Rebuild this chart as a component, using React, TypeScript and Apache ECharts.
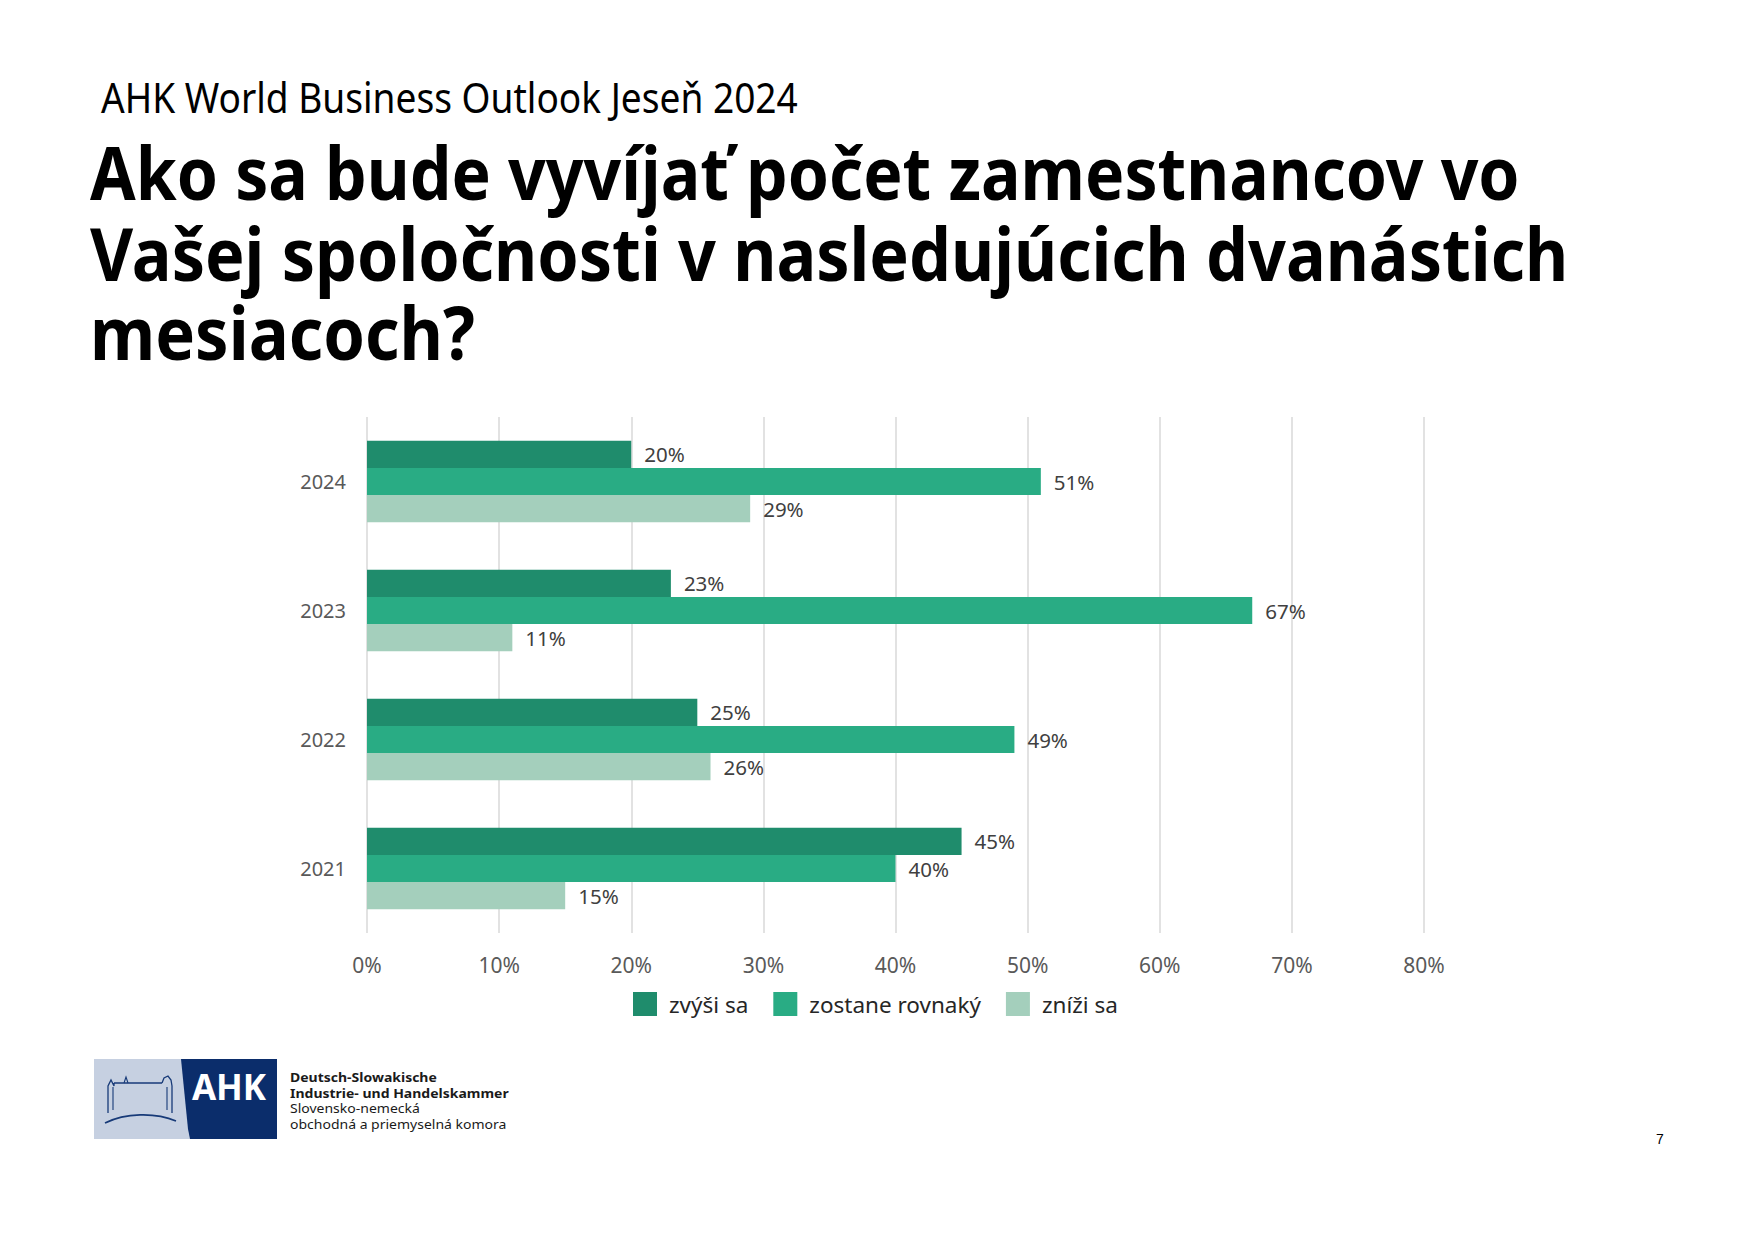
import React, { useEffect, useRef } from "react";
import * as echarts from "echarts";

const years = ["2024", "2023", "2022", "2021"];
const seriesNames = ["zvýši sa", "zostane rovnaký", "zníži sa"];
const increase = [20, 23, 25, 45];
const same = [51, 67, 49, 40];
const decrease = [29, 11, 26, 15];
const colors = ["#1F8C6C", "#29AC84", "#A4CFBC"];
const xTicks = { min: 0, max: 80, interval: 10 };

const subtitle = "AHK World Business Outlook Jeseň 2024";
const titleLines = [
  "Ako sa bude vyvíjať počet zamestnancov vo",
  "Vašej spoločnosti v nasledujúcich dvanástich",
  "mesiacoch?",
];
const logoLines = [
  "Deutsch-Slowakische",
  "Industrie- und Handelskammer",
  "Slovensko-nemecká",
  "obchodná a priemyselná komora",
];

function measure(text: string, font: string): number {
  const c = document.createElement("canvas");
  const ctx = c.getContext("2d");
  if (!ctx) return 1;
  ctx.font = font;
  return ctx.measureText(text).width || 1;
}

export default function App() {
  const ref = useRef<HTMLDivElement>(null);
  useEffect(() => {
    if (!ref.current) return;
    const chart = echarts.init(ref.current, undefined, { renderer: "svg" });

    const titleSize = 73;
    const titleFont = `bold ${titleSize}px "Noto Sans"`;
    const titleTargets = [1430, 1479, 385];
    const titleYs = [172, 252, 332];
    const titleEls = titleLines.map((t, i) => ({
      type: "text",
      x: 90,
      y: titleYs[i],
      scaleX: titleTargets[i] / measure(t, titleFont),
      style: {
        text: t,
        font: titleFont,
        fill: "#000000",
        textAlign: "left",
        textVerticalAlign: "middle",
      },
    }));
    const subFont = `42px "Noto Sans"`;
    const subEl = {
      type: "text",
      x: 101,
      y: 97,
      scaleX: 697 / measure(subtitle, subFont),
      style: {
        text: subtitle,
        font: subFont,
        fill: "#000000",
        textAlign: "left",
        textVerticalAlign: "middle",
      },
    };

    const castle = "#173A78";
    const logoEls: any[] = [
      { type: "rect", shape: { x: 94, y: 1059, width: 183, height: 80 }, style: { fill: "#C6D0E1" } },
      {
        type: "polygon",
        shape: {
          points: [
            [181, 1059], [182, 1069], [183, 1079], [184, 1089], [185, 1099],
            [186, 1109], [187, 1119], [188, 1129], [190, 1139], [277, 1139], [277, 1059],
          ],
        },
        style: { fill: "#0B2D6B" },
      },
      {
        type: "text",
        x: 229,
        y: 1086,
        style: {
          text: "AHK",
          font: 'bold 35px "Noto Sans"',
          fill: "#FFFFFF",
          textAlign: "center",
          textVerticalAlign: "middle",
        },
      },
      { type: "polyline", shape: { points: [[108, 1113], [108, 1086], [111, 1080], [114, 1086], [114, 1083]] }, style: { stroke: castle, lineWidth: 1.3, fill: "none" } },
      { type: "polyline", shape: { points: [[114, 1083], [162, 1083]] }, style: { stroke: castle, lineWidth: 1.3 } },
      { type: "polyline", shape: { points: [[162, 1083], [164, 1078], [168, 1076], [171, 1080], [172, 1086], [172, 1113]] }, style: { stroke: castle, lineWidth: 1.3, fill: "none" } },
      { type: "polyline", shape: { points: [[113, 1087], [113, 1110]] }, style: { stroke: castle, lineWidth: 1.1 } },
      { type: "polyline", shape: { points: [[167, 1087], [167, 1110]] }, style: { stroke: castle, lineWidth: 1.1 } },
      { type: "polyline", shape: { points: [[124, 1083], [126, 1077], [128, 1083]] }, style: { stroke: castle, lineWidth: 1.1, fill: "none" } },
      { type: "bezierCurve", shape: { x1: 105, y1: 1123, x2: 176, y2: 1121, cpx1: 125, cpy1: 1113, cpx2: 155, cpy2: 1112 }, style: { stroke: castle, lineWidth: 1.6, fill: "none" } },
    ];
    const logoTextYs = [1077.5, 1093, 1108.5, 1124];
    logoLines.forEach((t, i) => {
      logoEls.push({
        type: "text",
        x: 290,
        y: logoTextYs[i],
        scaleX: 14 / 13,
        style: {
          text: t,
          font: `${i < 2 ? "bold " : ""}13px "Noto Sans"`,
          lineHeight: 13,
          fill: "#1A1A1A",
          textAlign: "left",
          textVerticalAlign: "middle",
        },
      });
    });
    const pageEl = {
      type: "text",
      x: 1660,
      y: 1139,
      style: {
        text: "7",
        font: '14px "Liberation Sans"',
        fill: "#000000",
        textAlign: "center",
        textVerticalAlign: "middle",
      },
    };

    const dataSets = [increase, same, decrease];
    chart.setOption({
      animation: false,
      backgroundColor: "#FFFFFF",
      textStyle: { fontFamily: '"Noto Sans", sans-serif' },
      grid: { left: 367, top: 417, width: 1057, height: 516, containLabel: false },
      legend: {
        data: seriesNames,
        left: 628,
        top: 987,
        itemWidth: 24,
        itemHeight: 24,
        itemGap: 25,
        icon: "rect",
        textStyle: { fontSize: 22.5, color: "#262626", padding: [0, 0, 0, 7] },
      },
      xAxis: {
        type: "value",
        min: xTicks.min,
        max: xTicks.max,
        interval: xTicks.interval,
        axisLine: { show: false },
        axisTick: { show: false },
        splitLine: { show: true, lineStyle: { color: "#D9D9D9", width: 1.5 } },
        axisLabel: { formatter: "{value}%", fontSize: 21, color: "#595959", margin: 21 },
      },
      yAxis: {
        type: "category",
        data: years,
        inverse: true,
        axisLine: { show: false },
        axisTick: { show: false },
        axisLabel: { fontSize: 20, color: "#595959", margin: 21 },
      },
      series: seriesNames.map((name, i) => ({
        name,
        type: "bar",
        data: dataSets[i],
        barGap: "0%",
        barCategoryGap: "37%",
        itemStyle: { color: colors[i] },
        label: {
          show: true,
          position: "right",
          distance: 13,
          formatter: "{c}%",
          fontSize: 20.5,
          color: "#404040",
        },
      })),
      graphic: [subEl, ...titleEls, ...logoEls, pageEl],
    });
    return () => chart.dispose();
  }, []);
  return (
    <div
      ref={ref}
      style={{ position: "absolute", left: 0, top: 0, width: 1755, height: 1240 }}
    />
  );
}
